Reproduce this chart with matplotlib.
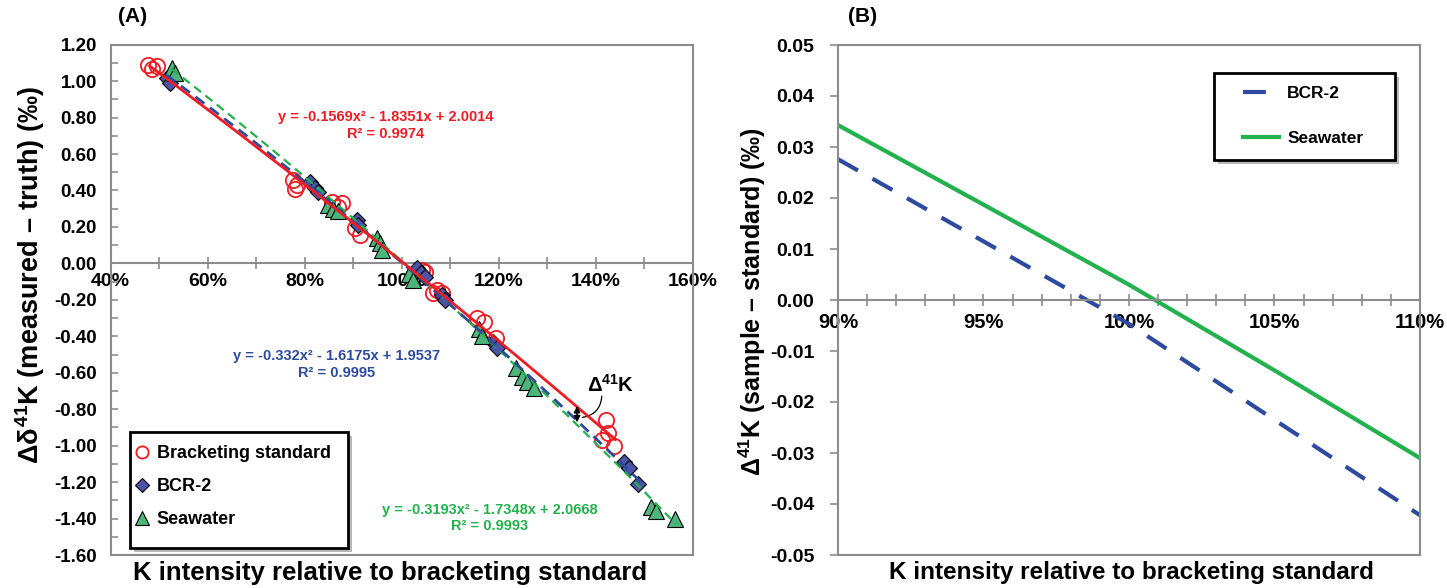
import matplotlib
matplotlib.use('Agg')
import matplotlib.pyplot as plt
import numpy as np
from matplotlib.ticker import MultipleLocator, FuncFormatter, FixedLocator
from matplotlib.patches import Rectangle, Shadow

plt.rcParams['font.family'] = ['Liberation Sans', 'DejaVu Sans']
plt.rcParams['font.weight'] = 'bold'
plt.rcParams['axes.unicode_minus'] = False
plt.rcParams['mathtext.fontset'] = 'custom'
plt.rcParams['mathtext.rm'] = 'Liberation Sans:bold'
plt.rcParams['mathtext.bf'] = 'Liberation Sans:bold'
plt.rcParams['mathtext.it'] = 'Liberation Sans:bold'

# ---------------- Data (panel A) ----------------
std_x = [0.477, 0.485, 0.495, 0.775, 0.783, 0.779, 0.857, 0.876, 0.868, 0.903, 0.913,
         1.041, 1.047, 1.064, 1.072, 1.082, 1.154, 1.170, 1.195, 1.421, 1.425, 1.413, 1.438]
std_y = [1.09, 1.065, 1.085, 0.458, 0.43, 0.41, 0.337, 0.33, 0.31, 0.194, 0.156,
         -0.037, -0.048, -0.163, -0.147, -0.16, -0.30, -0.32, -0.41, -0.86, -0.93, -0.97, -1.00]

bcr_x = [0.516, 0.522, 0.810, 0.820, 0.827, 0.907, 0.909, 1.032, 1.040, 1.047,
         1.082, 1.088, 1.187, 1.197, 1.458, 1.468, 1.487]
bcr_y = [1.02, 0.99, 0.447, 0.414, 0.39, 0.24, 0.21, -0.026, -0.053, -0.075,
         -0.174, -0.20, -0.43, -0.465, -1.09, -1.125, -1.21]

sw_x = [0.526, 0.532, 0.847, 0.858, 0.868, 0.948, 0.954, 0.960, 1.015, 1.022,
        1.160, 1.166, 1.236, 1.247, 1.257, 1.273, 1.514, 1.524, 1.563]
sw_y = [1.07, 1.045, 0.32, 0.30, 0.29, 0.14, 0.11, 0.073, -0.06, -0.092,
        -0.36, -0.40, -0.575, -0.625, -0.65, -0.685, -1.335, -1.36, -1.40]

# trendline coefficients (quadratic, highest power first) and ranges
std_fit = [-0.1569, -1.8351, 2.0014]
bcr_fit = [-0.332, -1.6175, 1.9537]
sw_fit = [-0.3193, -1.7348, 2.0668]
std_range = [0.48, 1.44]
bcr_range = [0.515, 1.50]
sw_range = [0.525, 1.565]

std_eq = "y = -0.1569x² - 1.8351x + 2.0014\nR² = 0.9974"
bcr_eq = "y = -0.332x² - 1.6175x + 1.9537\nR² = 0.9995"
sw_eq = "y = -0.3193x² - 1.7348x + 2.0668\nR² = 0.9993"

# ---------------- Data (panel B) ----------------
b_x = [0.90, 0.95, 1.00, 1.05, 1.10]
b_bcr = [0.0276, 0.0115, -0.0047, -0.0235, -0.0422]
b_sw = [0.0343, 0.0187, 0.0030, -0.0138, -0.0310]

RED = '#ed1c24'
BLUE = '#2e4a9e'
GREEN = '#22b14c'
GREY = '#8c8c8c'

W, H = 1447, 588
fig = plt.figure(figsize=(W / 100, H / 100), dpi=100)

def ax_rect(x0, y0, x1, y1):
    return [x0 / W, 1 - y1 / H, (x1 - x0) / W, (y1 - y0) / H]

def fx(px):
    return px / W

def fy(py):
    return 1 - py / H

def legend_box(ax, x0, y0, x1, y1):
    r = Rectangle((fx(x0), fy(y1)), fx(x1) - fx(x0), fy(y0) - fy(y1),
                  transform=fig.transFigure, fc='white', ec='black', lw=2,
                  zorder=6, clip_on=False)
    sh = Shadow(r, 3 / W, -3 / H, fc='#9a9a9a', ec='none', alpha=0.7)
    sh.set_zorder(5.9)
    sh.set_clip_on(False)
    ax.add_patch(sh)
    ax.add_patch(r)

# ================= Panel A =================
ax = fig.add_axes(ax_rect(110.7, 44.7, 693, 555))
ax.set_xlim(0.4, 1.6)
ax.set_ylim(-1.6, 1.2)

ax.plot(std_x, std_y, 'o', ms=11, mfc='none', mec=RED, mew=1.3, zorder=3, label='Bracketing standard')
ax.plot(bcr_x, bcr_y, 'D', ms=8.5, mfc='#4b54a6', mec='black', mew=0.8, zorder=3, label='BCR-2')
ax.plot(sw_x, sw_y, '^', ms=12, mfc='#4db47a', mec='black', mew=0.8, zorder=3, label='Seawater')

xs = np.linspace(sw_range[0], sw_range[1], 200)
ax.plot(xs, np.polyval(sw_fit, xs), color=GREEN, lw=1.6, ls=(0, (4, 2.5)), zorder=4)
xs = np.linspace(bcr_range[0], bcr_range[1], 200)
ax.plot(xs, np.polyval(bcr_fit, xs), color=BLUE, lw=2.0, ls=(0, (4, 2.5)), zorder=4)
xs = np.linspace(std_range[0], std_range[1], 200)
ax.plot(xs, np.polyval(std_fit, xs), color=RED, lw=2.0, zorder=5)

ax.text(0.966, 0.755, std_eq, color=RED, fontsize=10.5, ha='center', va='center',
        linespacing=1.25, fontweight='bold')
ax.text(0.865, -0.553, bcr_eq, color=BLUE, fontsize=10.5, ha='center', va='center',
        linespacing=1.25, fontweight='bold')
ax.text(1.181, -1.397, sw_eq, color=GREEN, fontsize=10.5, ha='center', va='center',
        linespacing=1.25, fontweight='bold')

# Delta 41K annotation
xa = 1.361
ya1 = np.polyval(std_fit, xa)
ya2 = np.polyval(bcr_fit, xa)
ax.annotate('', xy=(xa, ya1 + 0.005), xytext=(xa, ya2 - 0.01),
            arrowprops=dict(arrowstyle='<|-|>', color='black', lw=1.2,
                            mutation_scale=9, shrinkA=0, shrinkB=0), zorder=6)
ax.text(1.43, -0.665, r'$\Delta^{41}$K', fontsize=14.5, ha='center', va='center', fontweight='bold')
ax.annotate('', xy=(1.372, -0.845), xytext=(1.412, -0.728),
            arrowprops=dict(arrowstyle='-', color='black', lw=0.9,
                            connectionstyle='arc3,rad=-0.4', shrinkA=0, shrinkB=0))

for s in ax.spines.values():
    s.set_color(GREY)
    s.set_linewidth(1.5)
ax.spines['bottom'].set_position(('data', 0))
ax.plot([0, 1], [0, 0], transform=ax.transAxes, color=GREY, lw=1.5, clip_on=False, zorder=1)

ax.xaxis.set_major_locator(FixedLocator([0.4, 0.6, 0.8, 1.0, 1.2, 1.4, 1.6]))
ax.xaxis.set_minor_locator(MultipleLocator(0.1))
ax.xaxis.set_major_formatter(FuncFormatter(lambda v, p: f"{v*100:.0f}%"))
ax.tick_params(axis='x', which='both', direction='inout', length=8, width=1.2, color=GREY)
ax.tick_params(axis='x', which='major', labelsize=14, pad=3)
ax.yaxis.set_major_locator(MultipleLocator(0.2))
ax.yaxis.set_minor_locator(MultipleLocator(0.1))
ax.yaxis.set_major_formatter(FuncFormatter(lambda v, p: f"{v:.2f}"))
ax.tick_params(axis='y', which='both', direction='in', length=5, width=1.2, color=GREY)
ax.tick_params(axis='y', which='major', labelsize=13.5, pad=10)
for lab in ax.get_xticklabels() + ax.get_yticklabels():
    lab.set_fontweight('bold')

fig.text(fx(390), fy(573), 'K intensity relative to bracketing standard', fontsize=18.5,
         fontweight='bold', ha='center', va='center')
fig.text(fx(30), fy(275), r'$\Delta\delta^{41}$K (measured – truth) (‰)', fontsize=19.5,
         fontweight='bold', ha='center', va='center', rotation=90)

legend_box(ax, 130, 432, 348, 548)
leg = ax.legend(loc='upper left', bbox_to_anchor=(fx(135), fy(445)),
                bbox_transform=fig.transFigure, fontsize=13, frameon=False,
                markerscale=0.8, handlelength=0.8, handletextpad=0.4,
                labelspacing=0.9, borderpad=0, borderaxespad=0)
leg.set_zorder(7)
for t in leg.get_texts():
    t.set_fontweight('bold')

fig.text(fx(118), fy(16), '(A)', fontsize=15, fontweight='bold', ha='left', va='center')

# ================= Panel B =================
bx = fig.add_axes(ax_rect(838, 45, 1420, 555))
bx.set_xlim(0.9, 1.1)
bx.set_ylim(-0.05, 0.05)
bx.plot(b_x, b_bcr, color=BLUE, lw=3, ls=(0, (5.5, 4)), label='BCR-2')
bx.plot(b_x, b_sw, color=GREEN, lw=3, label='Seawater')

for s in bx.spines.values():
    s.set_color(GREY)
    s.set_linewidth(1.5)
bx.spines['bottom'].set_position(('data', 0))
bx.plot([0, 1], [0, 0], transform=bx.transAxes, color=GREY, lw=1.5, clip_on=False, zorder=1)

bx.xaxis.set_major_locator(FixedLocator([0.90, 0.95, 1.00, 1.05, 1.10]))
bx.xaxis.set_minor_locator(MultipleLocator(0.01))
bx.xaxis.set_major_formatter(FuncFormatter(lambda v, p: f"{v*100:.0f}%"))
bx.tick_params(axis='x', which='both', direction='inout', length=9, width=1.2, color=GREY)
bx.tick_params(axis='x', which='major', labelsize=14.5, pad=5)
bx.yaxis.set_major_locator(MultipleLocator(0.01))
bx.yaxis.set_major_formatter(FuncFormatter(lambda v, p: f"{v:.2f}" if abs(v) > 1e-9 else "0.00"))
bx.tick_params(axis='y', which='both', direction='out', length=6, width=1.2, color=GREY)
bx.tick_params(axis='y', which='major', labelsize=14, pad=11)
for lab in bx.get_xticklabels() + bx.get_yticklabels():
    lab.set_fontweight('bold')

fig.text(fx(1131), fy(573), 'K intensity relative to bracketing standard', fontsize=17.5,
         fontweight='bold', ha='center', va='center')
fig.text(fx(752), fy(302), r'$\Delta^{41}$K (sample – standard) (‰)', fontsize=18,
         fontweight='bold', ha='center', va='center', rotation=90)

legend_box(bx, 1214, 73, 1395, 160)
leg2 = bx.legend(loc='upper left', bbox_to_anchor=(fx(1243), fy(86)),
                 bbox_transform=fig.transFigure, fontsize=12.5, frameon=False,
                 handlelength=2.1, handletextpad=0.45, labelspacing=1.7,
                 borderpad=0, borderaxespad=0)
leg2.set_zorder(7)
for t in leg2.get_texts():
    t.set_fontweight('bold')

fig.text(fx(848), fy(16), '(B)', fontsize=15, fontweight='bold', ha='left', va='center')

fig.savefig('out.png', dpi=100)
